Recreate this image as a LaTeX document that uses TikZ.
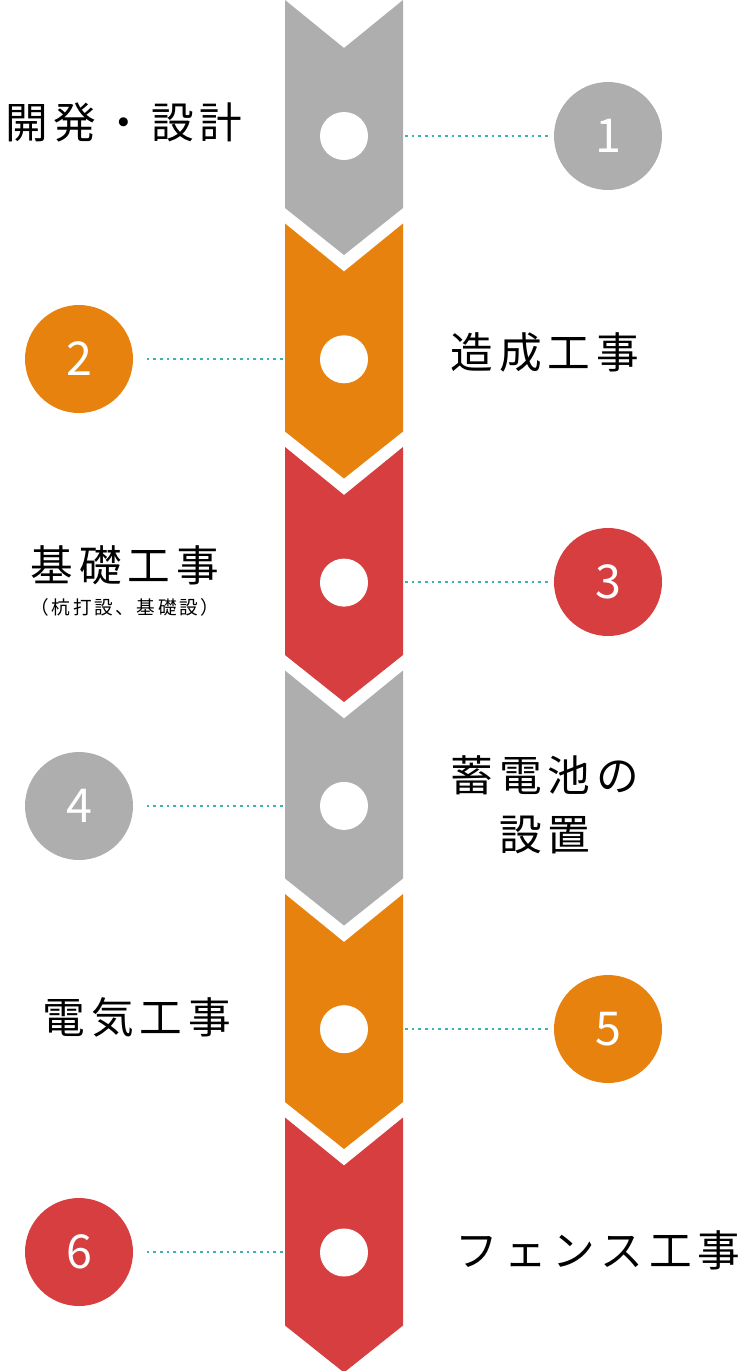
\documentclass[tikz,border=0pt]{standalone}
\usepackage{fontspec}
\setmainfont{Noto Sans CJK JP}[LetterSpace=14]
\newfontfamily\numf{Noto Sans CJK JP}
\definecolor{cgray}{HTML}{AEAEAE}
\definecolor{corange}{HTML}{E8820E}
\definecolor{cred}{HTML}{D63E3F}
\definecolor{cteal}{HTML}{3BB5A8}
\begin{document}
\begin{tikzpicture}[x=0.75pt,y=-0.75pt,
  lbl/.style={font=\fontsize{32}{40}\selectfont,align=center,inner sep=0},
  num/.style={circle,minimum size=108*0.75pt,inner sep=0,text=white,font=\numf\fontsize{35}{35}\selectfont},
  dot/.style={circle,fill=white,minimum size=48*0.75pt,inner sep=0},
  conn/.style={cteal,line width=2pt,dash pattern=on 2pt off 3pt}]
\useasboundingbox (0,0) rectangle (750,1371);
\foreach \i/\c in {0/cgray,1/corange,2/cred,3/cgray,4/corange,5/cred}{
  \pgfmathsetmacro\T{\i*223.5}
  \fill[\c] (285,\T) -- (344,\T+48) -- (403,\T) -- (403,\T+208) -- (344,\T+255) -- (285,\T+208) -- cycle;
}
\foreach \i in {0,...,5}{
  \node[dot] (d\i) at (344,{136+\i*223.3}) {};
}
\node[num,fill=cgray]   (n1) at (608,136) {1};
\node[num,fill=corange] (n2) at (79,359) {2};
\node[num,fill=cred]    (n3) at (608,582) {3};
\node[num,fill=cgray]   (n4) at (79,806) {4};
\node[num,fill=corange] (n5) at (608,1029) {5};
\node[num,fill=cred]    (n6) at (79,1252) {6};
\coordinate (r1) at (405,136); \coordinate (l2) at (283,359);
\coordinate (r3) at (405,582); \coordinate (l4) at (283,806);
\coordinate (r5) at (405,1029); \coordinate (l6) at (283,1252);
\draw[conn,shorten >=2pt] (r1) -- (n1.west);
\draw[conn,shorten <=10pt] (n2.east) -- (l2);
\draw[conn,shorten >=2pt] (r3) -- (n3.west);
\draw[conn,shorten <=10pt] (n4.east) -- (l4);
\draw[conn,shorten >=2pt] (r5) -- (n5.west);
\draw[conn,shorten <=10pt] (n6.east) -- (l6);
\node[lbl] (t1) at (124,122) {開発・設計};
\node[lbl] (t2) at (545,352) {造成工事};
\node[lbl] (t3) at (125,565) {基礎工事};
\node[inner sep=0,font=\fontsize{14}{16}\selectfont] (t3b) at (125,607) {（杭打設、基礎設）};
\node[lbl] (t4) at (545,775) {蓄電池の};
\node[lbl] (t4b) at (545,835) {設置};
\node[lbl] (t5) at (137,1017) {電気工事};
\node[lbl] (t6) at (598,1250) {フェンス工事};
\end{tikzpicture}
\end{document}
